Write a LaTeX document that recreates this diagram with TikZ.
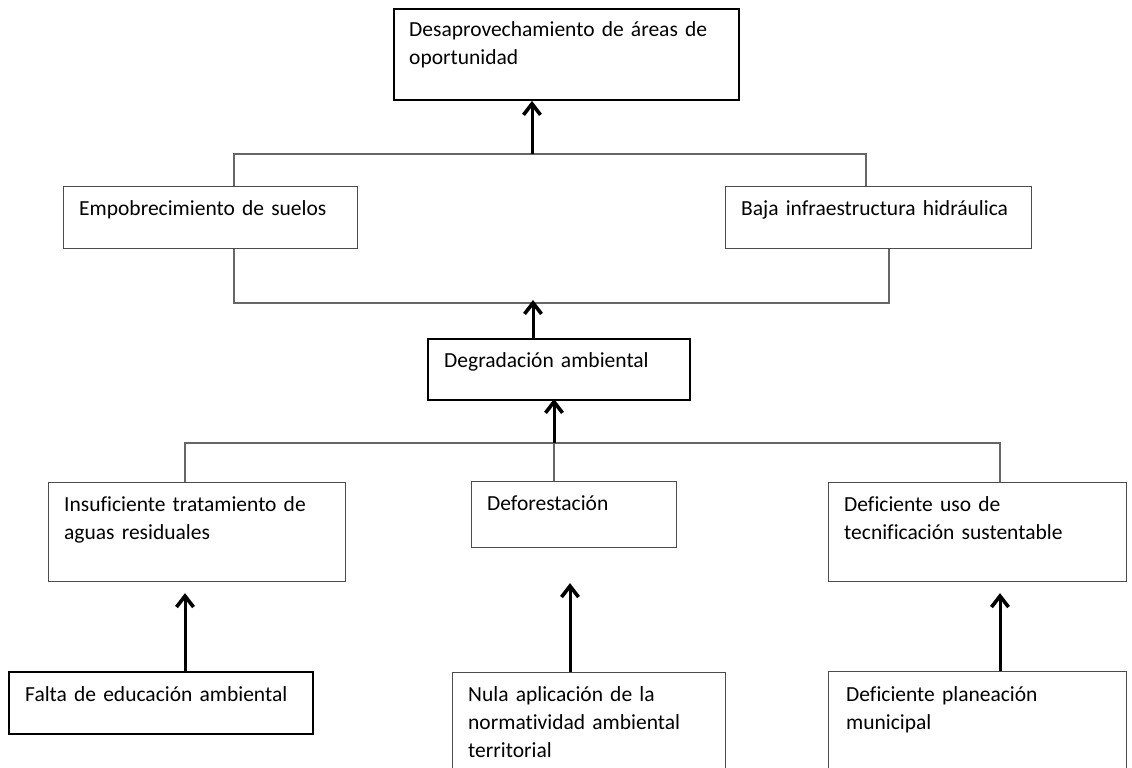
\documentclass[tikz,border=0pt]{standalone}
\usepackage{fontspec}
\setmainfont{Carlito}[Ligatures=NoCommon]
\usetikzlibrary{arrows.meta}
\begin{document}
\begin{tikzpicture}[x=1pt,y=-1pt,
  box/.style={draw=black!70, line width=1.1pt, rectangle, anchor=north west, inner sep=0pt},
  strong/.style={draw=black, line width=1.9pt},
  txt/.style={anchor=base west, inner sep=0pt, xshift=16pt, yshift=-29pt,
    text width=330pt, align=left, font=\fontsize{21.5}{28}\selectfont, text=black},
  conn/.style={draw=black!60, line width=1.1pt},
  arr/.style={draw=black, line width=3pt, -{Straight Barb[length=11pt,width=17pt,line width=3.6pt]}}
]
\useasboundingbox (0,0) rectangle (1132,768);
\clip (0,0) rectangle (1132,768);

% top effect
\node[box, strong, minimum width=345pt, minimum height=91pt,
  label={[txt]north west:Desaprovechamiento de áreas de\\oportunidad}] (top) at (393,8) {};

% second level
\node[box, minimum width=294pt, minimum height=62pt,
  label={[txt]north west:Empobrecimiento de suelos}] (emp) at (63,186) {};
\node[box, minimum width=306pt, minimum height=62pt,
  label={[txt]north west:Baja infraestructura hidráulica}] (baja) at (725,186) {};

% central problem
\node[box, strong, minimum width=262pt, minimum height=61pt,
  label={[txt, xshift=1pt]north west:Degradación ambiental}] (deg) at (427,338) {};

% direct causes
\node[box, minimum width=297pt, minimum height=99pt,
  label={[txt]north west:Insuficiente tratamiento de\\aguas residuales}] (ins) at (48,482) {};
\node[box, minimum width=205pt, minimum height=66pt,
  label={[txt]north west:Deforestación}] (defo) at (471,481) {};
\node[box, minimum width=298pt, minimum height=99pt,
  label={[txt]north west:Deficiente uso de\\tecnificación sustentable}] (uso) at (828,482) {};

% root causes
\node[box, strong, minimum width=304pt, minimum height=62pt,
  label={[txt, xshift=1pt, yshift=-1pt]north west:Falta de educación ambiental}] (falta) at (8,671) {};
\node[box, minimum width=273pt, minimum height=130pt,
  label={[txt]north west:Nula aplicación de la\\normatividad ambiental\\territorial}] (nula) at (452,672) {};
\node[box, minimum width=298pt, minimum height=130pt,
  label={[txt, xshift=2pt, yshift=-1pt]north west:Deficiente planeación\\municipal}] (plan) at (828,671) {};

% junction points of the connector lines
\coordinate (t1) at (234,154);
\coordinate (t2) at (866,154);
\coordinate (ta) at (532,154);
\coordinate (b1) at (234,303);
\coordinate (b2) at (889,303);
\coordinate (ba) at (533,303);
\coordinate (c1) at (185,443);
\coordinate (c2) at (554,443);
\coordinate (c3) at (1000,443);

% upper bracket
\draw[conn] (emp.north -| t1) -- (t1) -- (t2) -- (baja.north -| t2);
\draw[arr] (ta) -- (ta |- top.south);

% lower bracket
\draw[conn] (emp.south -| b1) -- (b1) -- (b2) -- (baja.south -| b2);
\draw[arr, shorten >=-3pt] (deg.north -| ba) -- (ba);

% causes bracket
\draw[conn] (ins.north -| c1) -- (c1) -- (c3) -- (uso.north -| c3);
\draw[conn] (defo.north -| c2) -- (c2);
\draw[arr, shorten >=-2pt] (c2) -- (c2 |- deg.south);

% root cause arrows
\draw[arr, shorten >=11pt] (falta.north -| c1) -- (ins.south -| c1);
\draw[arr, shorten >=35pt] (nula.north -| 570,0) -- (defo.south -| 570,0);
\draw[arr, shorten >=11pt] (plan.north -| c3) -- (uso.south -| c3);
\end{tikzpicture}
\end{document}
